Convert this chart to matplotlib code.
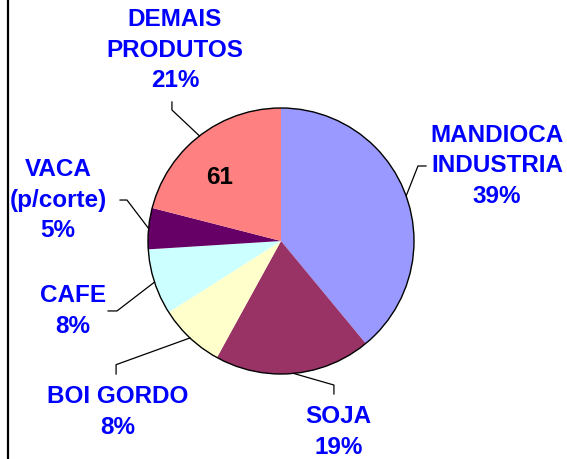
import matplotlib
matplotlib.use("Agg")
import matplotlib.pyplot as plt
import numpy as np
from matplotlib.patches import Circle

categories = ["MANDIOCA\nINDUSTRIA", "SOJA", "BOI GORDO", "CAFE", "VACA\n(p/corte)", "DEMAIS\nPRODUTOS"]
values = [39, 19, 8, 8, 5, 21]
colors = ["#9999FF", "#993366", "#FFFFCC", "#CCFFFF", "#660066", "#FF8080"]
inner_label = "61"

# label text centres and leader elbows (layout, data units where pie radius = 1)
text_pos = [(1.624, 0.564), (0.43, -1.436), (-1.226, -1.286), (-1.564, -0.526), (-1.677, 0.308), (-0.797, 1.436)]
elbow = [((1.03, 0.564), (1.09, 0.564)),
         ((0.398, -1.083), (0.398, -1.15)),
         ((-1.24, -0.93), (-1.24, -1.0)),
         ((-1.233, -0.526), (-1.30, -0.526)),
         ((-1.158, 0.308), (-1.21, 0.308)),
         ((-0.82, 0.985), (-0.82, 1.045))]

W, H = 567, 459
cx, cy, R = 281, 241, 133
fig = plt.figure(figsize=(W / 100, H / 100), dpi=100)
ax = fig.add_axes([0, 0, 1, 1])
ax.set_aspect("equal")
ax.axis("off")

wedges, _ = ax.pie(values, colors=colors, startangle=90, counterclock=False,
                   radius=1, center=(0, 0), wedgeprops=dict(linewidth=0))
ax.add_patch(Circle((0, 0), 1, fill=False, edgecolor="black", linewidth=1.0, zorder=3))
ax.set_xlim((0 - cx) / R, (W - cx) / R)
ax.set_ylim((cy - H) / R, cy / R)

FS = 17.5
total = sum(values)
cum = 0
for i, (cat, v) in enumerate(zip(categories, values)):
    mid = (cum + v / 2) / total * 360
    cum += v
    ang = np.deg2rad(90 - mid)
    ex, ey = np.cos(ang), np.sin(ang)
    (x1, y1), (x2, y2) = elbow[i]
    ax.plot([ex, x1, x2], [ey, y1, y2], color="black", linewidth=0.9, zorder=4)
    pct = f"{round(v / total * 100)}%"
    tx, ty = text_pos[i]
    ax.text(tx, ty, f"{cat}\n{pct}", ha="center", va="center", color="#0000FF",
            fontsize=FS, fontweight="bold", family="Liberation Sans", linespacing=1.42)

ax.text(-0.46, 0.48, inner_label, ha="center", va="center", color="black",
        fontsize=FS, fontweight="bold", family="Liberation Sans")

fig.add_artist(plt.Line2D([8 / W, 8 / W], [0, 1], color="black", linewidth=1.6, transform=fig.transFigure))

fig.savefig("out.png", dpi=100, facecolor="white")
